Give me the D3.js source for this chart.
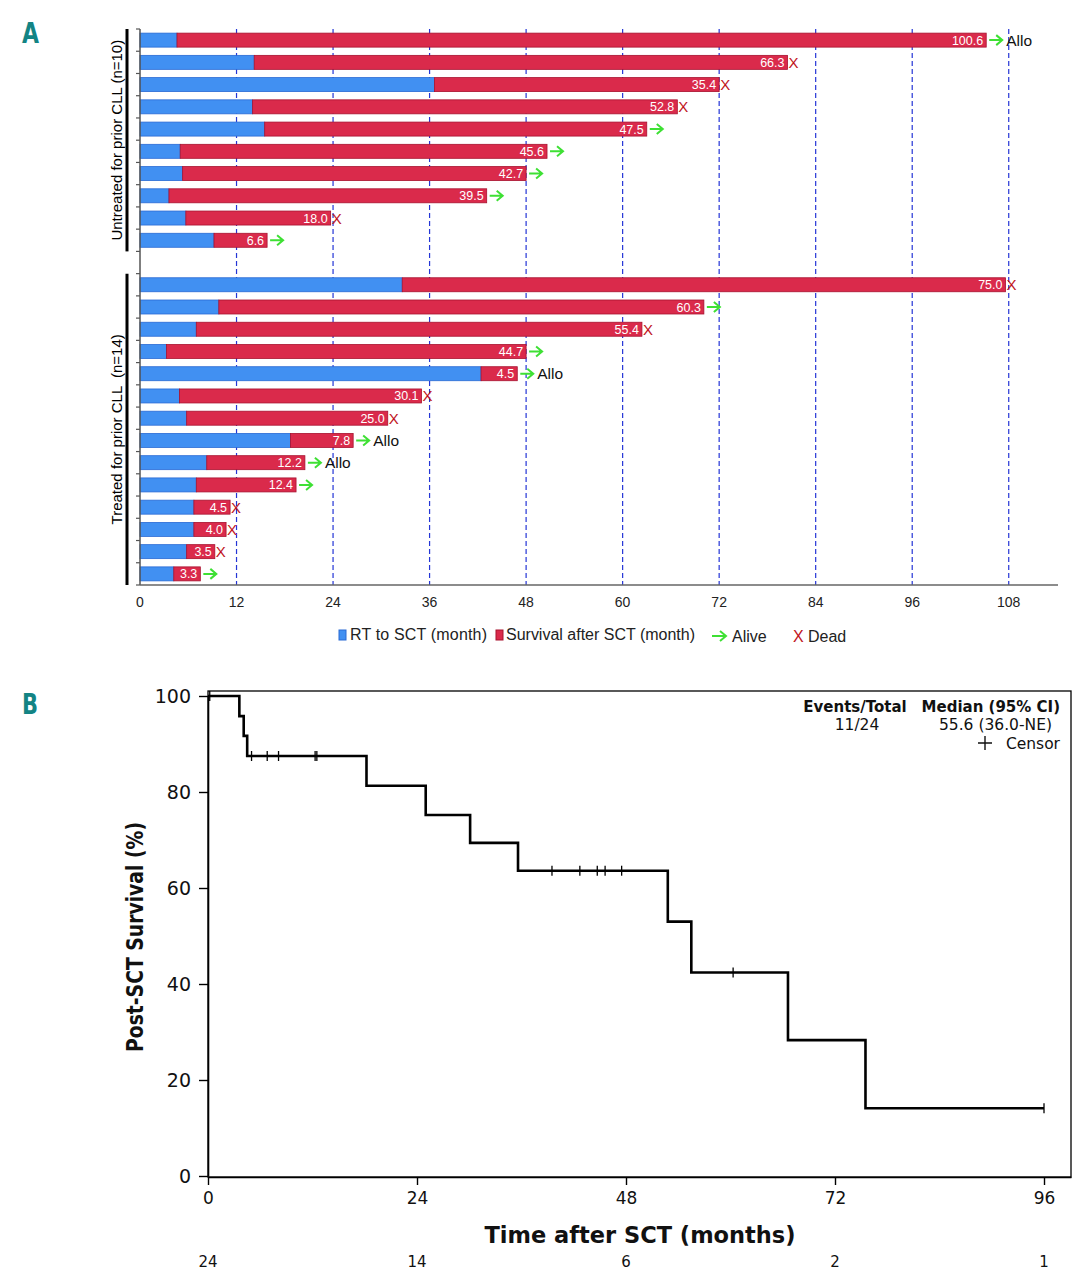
<!DOCTYPE html>
<html>
<head>
<meta charset="utf-8">
<script src="https://cdn.jsdelivr.net/npm/d3@7.9.0/dist/d3.min.js"></script>
<style>
  body { margin: 0; background: #fff; }
  svg { display: block; }
</style>
</head>
<body>
<svg id="chart" width="1089" height="1280"></svg>
<script>
// ---- panel A: swimmer plot, one entry per patient, top to bottom ----
const untreatedRT = [4.6, 14.2, 36.6, 14.0, 15.5, 5.0, 5.3, 3.6, 5.7, 9.2];
const untreatedSurv = [100.6, 66.3, 35.4, 52.8, 47.5, 45.6, 42.7, 39.5, 18.0, 6.6];
const untreatedStatus = ['alive', 'dead', 'dead', 'dead', 'alive', 'alive', 'alive', 'alive', 'dead', 'alive'];
const untreatedAllo = [true, false, false, false, false, false, false, false, false, false];

const treatedRT = [32.6, 9.8, 7.0, 3.3, 42.4, 4.9, 5.8, 18.7, 8.3, 7.0, 6.7, 6.7, 5.8, 4.2];
const treatedSurv = [75.0, 60.3, 55.4, 44.7, 4.5, 30.1, 25.0, 7.8, 12.2, 12.4, 4.5, 4.0, 3.5, 3.3];
const treatedStatus = ['dead', 'alive', 'dead', 'alive', 'alive', 'dead', 'dead', 'alive', 'alive', 'alive', 'dead', 'dead', 'dead', 'alive'];
const treatedAllo = [false, false, false, false, true, false, false, true, true, false, false, false, false, false];

const monthTicks = [0, 12, 24, 36, 48, 60, 72, 84, 96, 108];

// ---- panel B: Kaplan-Meier post-SCT survival ----
const kmTimes = [0, 3.6, 4.1, 4.5, 18.2, 25.0, 30.1, 35.6, 52.8, 55.5, 66.6, 75.5];
const kmSurv = [100, 95.8, 91.7, 87.5, 81.3, 75.2, 69.4, 63.6, 53.0, 42.4, 28.3, 14.1];
const kmEnd = 96;
const censorTimes = [0.2, 5.0, 6.8, 8.1, 12.3, 12.5, 39.5, 42.7, 44.7, 45.6, 47.5, 60.3, 96];
const survTicks = [0, 20, 40, 60, 80, 100];
const timeTicks = [0, 24, 48, 72, 96];
const atRisk = [24, 14, 6, 2, 1];

const svg = d3.select('#chart');
const fontA = 'Liberation Sans, Arial, sans-serif';
const fontB = 'DejaVu Sans, Verdana, sans-serif';

// ================= PANEL A =================
const xA = d3.scaleLinear().domain([0, 114]).range([140, 1057]);
const slotY = d3.scaleLinear().domain([0, 25]).range([29, 585]); // 10 rows, 1 gap, 14 rows
const barH = 14;

svg.append('text').attr('x', 22).attr('y', 43)
  .attr('font-family', 'DejaVu Sans, sans-serif').attr('font-weight', 'bold')
  .attr('font-size', 28).attr('fill', '#138484')
  .attr('textLength', 17).attr('lengthAdjust', 'spacingAndGlyphs').text('A');

// dashed grid lines
svg.append('g').selectAll('line').data(monthTicks.filter(d => d > 0)).join('line')
  .attr('x1', d => xA(d)).attr('x2', d => xA(d))
  .attr('y1', slotY(0)).attr('y2', slotY(25))
  .attr('stroke', '#2435d6').attr('stroke-width', 1.2).attr('stroke-dasharray', '5,3');

// build rows (untreated on top, one empty slot, then treated)
let rows = [];
untreatedRT.forEach((rt, i) => rows.push({ slot: i, rt, surv: untreatedSurv[i], status: untreatedStatus[i], allo: untreatedAllo[i] }));
treatedRT.forEach((rt, i) => rows.push({ slot: 11 + i, rt, surv: treatedSurv[i], status: treatedStatus[i], allo: treatedAllo[i] }));

const gA = svg.append('g');
rows.forEach(r => {
  let cy = slotY(r.slot + 0.5);
  let end = xA(r.rt + r.surv);
  gA.append('rect')
    .attr('x', xA(0)).attr('y', cy - barH / 2)
    .attr('width', xA(r.rt) - xA(0)).attr('height', barH)
    .attr('fill', '#4190f2').attr('stroke', '#2a6ad4').attr('stroke-width', 0.8);
  gA.append('rect')
    .attr('x', xA(r.rt)).attr('y', cy - barH / 2)
    .attr('width', end - xA(r.rt)).attr('height', barH)
    .attr('fill', '#da2a4b').attr('stroke', '#a8122f').attr('stroke-width', 0.8);
  gA.append('text')
    .attr('x', end - 3).attr('y', cy + 4.5)
    .attr('text-anchor', 'end').attr('font-family', fontA).attr('font-size', 12.5)
    .attr('fill', '#fff').text(r.surv.toFixed(1));
  if (r.status === 'dead') {
    gA.append('text').attr('x', end + 1).attr('y', cy + 5.5)
      .attr('font-family', fontA).attr('font-size', 15).attr('fill', '#c0141c').text('X');
  } else {
    gA.append('path')
      .attr('d', `M${end + 3},${cy} H${end + 16} M${end + 10},${cy - 5} L${end + 16},${cy} L${end + 10},${cy + 5}`)
      .attr('fill', 'none').attr('stroke', '#3ee034').attr('stroke-width', 2);
  }
  if (r.allo) {
    gA.append('text').attr('x', end + 20).attr('y', cy + 5.5)
      .attr('font-family', fontA).attr('font-size', 15.5).attr('fill', '#111').text('Allo');
  }
});

// axes
svg.append('line').attr('x1', xA(0)).attr('x2', xA(0)).attr('y1', slotY(0)).attr('y2', slotY(25))
  .attr('stroke', '#555').attr('stroke-width', 1.5);
svg.append('g').selectAll('line').data(d3.range(26)).join('line')
  .attr('x1', xA(0) - 4).attr('x2', xA(0)).attr('y1', d => slotY(d)).attr('y2', d => slotY(d))
  .attr('stroke', '#555').attr('stroke-width', 1.2);
svg.append('line').attr('x1', xA(0)).attr('x2', 1058).attr('y1', slotY(25)).attr('y2', slotY(25))
  .attr('stroke', '#666').attr('stroke-width', 1.6);
svg.append('g').selectAll('text').data(monthTicks).join('text')
  .attr('x', d => xA(d)).attr('y', 607).attr('text-anchor', 'middle')
  .attr('font-family', fontA).attr('font-size', 14).attr('fill', '#222').text(d => d);

// group brackets + labels
const groups = [
  { from: 0, to: 10, label: 'Untreated for prior CLL (n=10)' },
  { from: 11, to: 25, label: 'Treated for prior CLL  (n=14)' }
];
groups.forEach(g => {
  svg.append('line').attr('x1', 127).attr('x2', 127)
    .attr('y1', slotY(g.from)).attr('y2', slotY(g.to))
    .attr('stroke', '#000').attr('stroke-width', 3);
  svg.append('text')
    .attr('transform', `translate(122,${(slotY(g.from) + slotY(g.to)) / 2}) rotate(-90)`)
    .attr('text-anchor', 'middle').attr('font-family', fontA).attr('font-size', 15)
    .style('white-space', 'pre').attr('fill', '#000').text(g.label);
});

// legend A
const lgA = svg.append('g').attr('font-family', fontA).attr('font-size', 16).attr('fill', '#222');
lgA.append('rect').attr('x', 339).attr('y', 630).attr('width', 7).attr('height', 10)
  .attr('fill', '#4190f2').attr('stroke', '#2a6ad4');
lgA.append('text').attr('x', 350).attr('y', 640).attr('textLength', 137).text('RT to SCT (month)');
lgA.append('rect').attr('x', 496).attr('y', 630).attr('width', 7).attr('height', 10)
  .attr('fill', '#da2a4b').attr('stroke', '#a8122f');
lgA.append('text').attr('x', 506).attr('y', 640).attr('textLength', 189).text('Survival after SCT (month)');
lgA.append('path').attr('d', 'M712,636 H726 M720,631 L726,636 L720,641')
  .attr('fill', 'none').attr('stroke', '#3ee034').attr('stroke-width', 2);
lgA.append('text').attr('x', 732).attr('y', 642).text('Alive');
lgA.append('text').attr('x', 793).attr('y', 642).attr('fill', '#c0141c').text('X');
lgA.append('text').attr('x', 808).attr('y', 642).text('Dead');

// ================= PANEL B =================
const xB = d3.scaleLinear().domain([0, 99.1]).range([208, 1071]);
const yB = d3.scaleLinear().domain([0, 100]).range([1176, 696]);

svg.append('text').attr('x', 22).attr('y', 714)
  .attr('font-family', 'DejaVu Sans, sans-serif').attr('font-weight', 'bold')
  .attr('font-size', 28).attr('fill', '#138484')
  .attr('textLength', 16).attr('lengthAdjust', 'spacingAndGlyphs').text('B');

svg.append('rect').attr('x', 208).attr('y', 691).attr('width', 863).attr('height', 486)
  .attr('fill', 'none').attr('stroke', '#000').attr('stroke-width', 1.3);

const yAxisB = d3.axisLeft(yB).tickValues(survTicks).tickSize(9).tickSizeOuter(0);
const gy = svg.append('g').attr('transform', 'translate(208,0)').call(yAxisB);
gy.select('.domain').attr('stroke-width', 1.6);
gy.selectAll('.tick line').attr('stroke-width', 1.4);
gy.selectAll('.tick text').attr('font-family', fontB).attr('font-size', 19).attr('fill', '#111').attr('x', -17);

const xAxisB = d3.axisBottom(xB).tickValues(timeTicks).tickSize(8).tickSizeOuter(0);
const gx = svg.append('g').attr('transform', 'translate(0,1177)').call(xAxisB);
gx.select('.domain').attr('stroke-width', 1.6);
gx.selectAll('.tick line').attr('stroke-width', 1.4);
gx.selectAll('.tick text').attr('font-family', fontB).attr('font-size', 17).attr('fill', '#111').attr('y', 15);

// KM step curve
let kmPts = kmTimes.map((t, i) => [t, kmSurv[i]]);
kmPts.push([kmEnd, kmSurv[kmSurv.length - 1]]);
svg.append('path')
  .attr('d', d3.line().x(d => xB(d[0])).y(d => yB(d[1])).curve(d3.curveStepAfter)(kmPts))
  .attr('fill', 'none').attr('stroke', '#000').attr('stroke-width', 2.6);

// censor marks
const levelAt = t => kmSurv[d3.bisectRight(kmTimes, t) - 1];
svg.append('g').selectAll('line').data(censorTimes).join('line')
  .attr('x1', d => xB(d)).attr('x2', d => xB(d))
  .attr('y1', d => yB(levelAt(d)) - 5).attr('y2', d => yB(levelAt(d)) + 5)
  .attr('stroke', '#000').attr('stroke-width', 1.3);

// axis titles
svg.append('text').attr('x', 640).attr('y', 1243).attr('text-anchor', 'middle')
  .attr('font-family', fontB).attr('font-weight', 'bold').attr('font-size', 23)
  .attr('textLength', 311).attr('lengthAdjust', 'spacingAndGlyphs').attr('fill', '#111')
  .text('Time after SCT (months)');
svg.append('text').attr('transform', 'translate(143,937) rotate(-90)').attr('text-anchor', 'middle')
  .attr('font-family', fontB).attr('font-weight', 'bold').attr('font-size', 23)
  .attr('textLength', 230).attr('lengthAdjust', 'spacingAndGlyphs').attr('fill', '#111')
  .text('Post-SCT Survival (%)');

// numbers at risk
svg.append('g').selectAll('text').data(atRisk).join('text')
  .attr('x', (d, i) => xB(timeTicks[i])).attr('y', 1267).attr('text-anchor', 'middle')
  .attr('font-family', fontB).attr('font-size', 15).attr('fill', '#111').text(d => d);

// legend B
const lgB = svg.append('g').attr('font-family', fontB).attr('fill', '#111');
lgB.append('text').attr('x', 855).attr('y', 712).attr('text-anchor', 'middle')
  .attr('font-weight', 'bold').attr('font-size', 15).text('Events/Total');
lgB.append('text').attr('x', 1060).attr('y', 712).attr('text-anchor', 'end')
  .attr('font-weight', 'bold').attr('font-size', 15).text('Median (95% CI)');
lgB.append('text').attr('x', 857).attr('y', 730).attr('text-anchor', 'middle')
  .attr('font-size', 15.5).text('11/24');
lgB.append('text').attr('x', 1052).attr('y', 730).attr('text-anchor', 'end')
  .attr('font-size', 15.5).text('55.6 (36.0-NE)');
lgB.append('text').attr('x', 1060).attr('y', 749).attr('text-anchor', 'end')
  .attr('font-size', 15.5).text('Censor');
lgB.append('path').attr('d', 'M978,743 H992 M985,736 V750')
  .attr('stroke', '#111').attr('stroke-width', 1.4);
</script>
</body>
</html>
